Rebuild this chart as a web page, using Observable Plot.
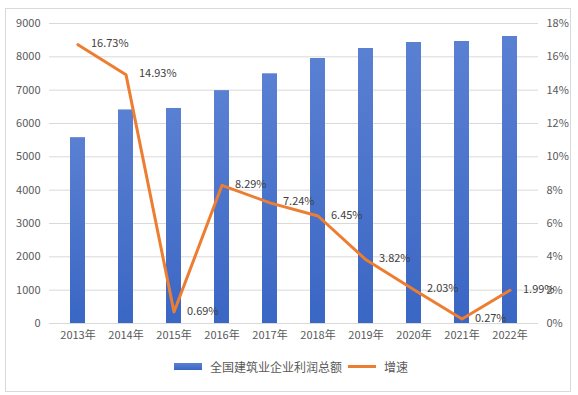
<!DOCTYPE html>
<html>
<head>
<meta charset="utf-8">
<script src="https://cdn.jsdelivr.net/npm/d3@7"></script>
<script src="https://cdn.jsdelivr.net/npm/@observablehq/plot@0.6"></script>
<style>
  html, body { margin: 0; padding: 0; background: #fff; }
  body { width: 578px; height: 395px; overflow: hidden; position: relative; font-family: "Noto Sans CJK SC", "Noto Sans", sans-serif; }
  #frame { position: absolute; left: 5px; top: 8px; width: 566px; height: 384px; border: 1px solid #d9d9d9; box-sizing: border-box; }
  #chart { position: absolute; left: 0; top: 0; }
  #legend { position: absolute; left: 0; top: 358px; width: 578px; display: flex; justify-content: center; align-items: center; font-size: 12px; color: #595959; gap: 4px; padding-left: 4px; box-sizing: border-box; }
  .sw-bar { width: 28px; height: 7px; background: linear-gradient(#5a80d2, #3a66c4); display: inline-block; margin-right: 4px; }
  .sw-line { width: 28px; height: 3px; background: #ED7D31; display: inline-block; margin: 0 4px 0 2px; }
</style>
</head>
<body>
<div id="frame"></div>
<div id="chart"></div>
<div id="legend"><span class="sw-bar"></span><span>全国建筑业企业利润总额</span><span class="sw-line"></span><span>增速</span></div>
<script>
const years = ["2013年","2014年","2015年","2016年","2017年","2018年","2019年","2020年","2021年","2022年"];
const profits = [5575, 6407, 6451, 6986, 7491, 7950, 8250, 8430, 8460, 8610];
const growth = [16.73, 14.93, 0.69, 8.29, 7.24, 6.45, 3.82, 2.03, 0.27, 1.99];
const leftTicks = [0,1000,2000,3000,4000,5000,6000,7000,8000,9000];
const rightTicks = [0,2,4,6,8,10,12,14,16,18];

const k = 9000 / 18; // right axis (%) mapped onto left axis units
const bars = years.map((y, i) => ({year: y, value: profits[i]}));
const pts = years.map((y, i) => ({year: y, g: growth[i], v: growth[i] * k}));

const font = "'Noto Sans CJK SC', 'Noto Sans', sans-serif";
const chart = Plot.plot({
  width: 578,
  height: 345,
  marginTop: 23,
  marginBottom: 22,
  marginLeft: 49,
  marginRight: 40,
  style: {fontFamily: font, fontSize: "11px", color: "#595959", background: "transparent"},
  x: {domain: years, paddingInner: 0.69, paddingOuter: 0.345, label: null},
  y: {domain: [0, 9000], label: null},
  marks: [
    Plot.gridY(leftTicks, {stroke: "#d9d9d9", strokeOpacity: 1}),
    Plot.axisY({ticks: leftTicks, tickSize: 0, tickPadding: 9, tickFormat: d => String(d), fill: "#595959"}),
    Plot.axisY({anchor: "right", ticks: rightTicks.map(d => d * k), tickSize: 0, tickPadding: 8, tickFormat: d => (d / k) + "%", fill: "#595959"}),
    Plot.axisX({tickSize: 0, tickPadding: 8, fill: "#595959"}),
    Plot.barY(bars, {x: "year", y: "value", fill: "url(#barGrad)"}),
    Plot.ruleY([0], {stroke: "#d9d9d9"}),
    Plot.line(pts, {x: "year", y: "v", stroke: "#ED7D31", strokeWidth: 3, strokeLinejoin: "round"}),
    Plot.text(pts, {x: "year", y: "v", text: d => d.g.toFixed(2) + "%", dx: 13, dy: -1, textAnchor: "start", fill: "#404040", fontSize: 11})
  ]
});

const defs = d3.select(chart).insert("defs", ":first-child");
const grad = defs.append("linearGradient").attr("id", "barGrad").attr("x1", 0).attr("y1", 0).attr("x2", 0).attr("y2", 1);
grad.append("stop").attr("offset", "0%").attr("stop-color", "#5a80d2");
grad.append("stop").attr("offset", "100%").attr("stop-color", "#3a66c4");

document.getElementById("chart").appendChild(chart);
</script>
</body>
</html>
